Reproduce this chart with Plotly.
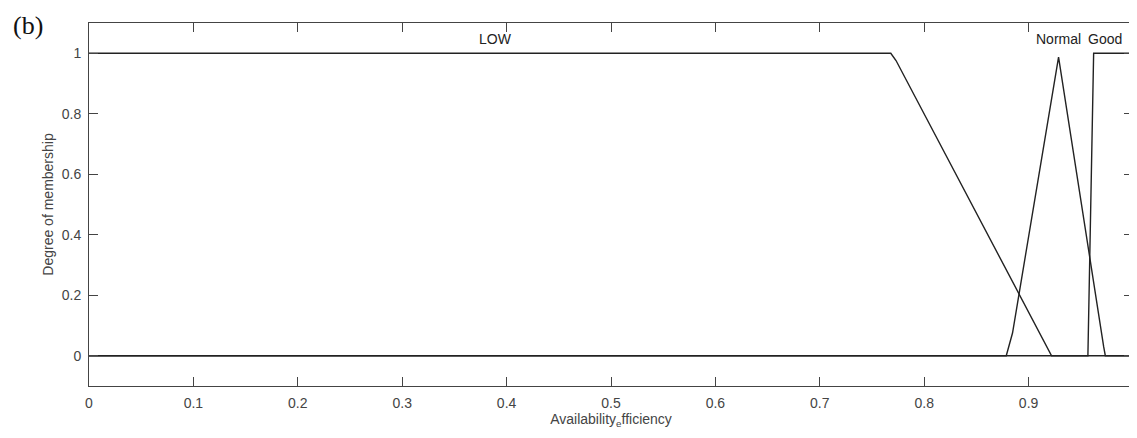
import plotly.graph_objects as go

low_x = [0.0, 0.768, 0.773, 0.920, 0.922, 1.0]
low_y = [1.0, 1.0, 0.976, 0.013, 0.0, 0.0]

normal_x = [0.0, 0.8786, 0.8846, 0.9287, 0.9719, 0.9735, 1.0]
normal_y = [0.0, 0.0, 0.075, 0.987, 0.03, 0.0, 0.0]

good_x = [0.0, 0.9568, 0.9623, 1.0]
good_y = [0.0, 0.0, 1.0, 1.0]

mf_names = ["LOW", "Normal", "Good"]
label_x = [0.389, 0.929, 0.973]
label_y = 1.047

x_ticks = [0, 0.1, 0.2, 0.3, 0.4, 0.5, 0.6, 0.7, 0.8, 0.9, 1]
x_tick_text = ["0", "0.1", "0.2", "0.3", "0.4", "0.5", "0.6", "0.7", "0.8", "0.9", "1"]
y_ticks = [0, 0.2, 0.4, 0.6, 0.8, 1]
y_tick_text = ["0", "0.2", "0.4", "0.6", "0.8", "1"]

# page body has an 8px default margin, so the figure is offset by 8px;
# the figure is made a bit wider than the window so the last tick label has room
OFF = 8
W, H = 1137, 438 - OFF
ml, mt, mb = 89 - OFF, 23 - OFF, 52
plot_right_screen = 1133
mr = W - (plot_right_screen - OFF)
pw, ph = W - ml - mr, H - mt - mb

FONT = "Liberation Sans, Arial, Helvetica"
line_style = dict(color="#222222", width=1.4)

fig = go.Figure()
for xs, ys, nm in [(low_x, low_y, "LOW"), (normal_x, normal_y, "Normal"), (good_x, good_y, "Good")]:
    fig.add_trace(go.Scatter(x=xs, y=ys, mode="lines", line=line_style, name=nm,
                             showlegend=False, hoverinfo="skip"))

for nm, lx in zip(mf_names, label_x):
    fig.add_annotation(x=lx, y=label_y, xref="x", yref="y", text=nm, showarrow=False,
                       font=dict(family=FONT, size=14, color="#222222"),
                       xanchor="center", yanchor="middle")

bx, by = 28 - OFF, 26 - OFF
fig.add_annotation(x=(bx - ml) / pw, y=(H - by - mb) / ph, xref="paper", yref="paper",
                   text="(b)", showarrow=False, xanchor="center", yanchor="middle",
                   font=dict(family="Liberation Serif, Times New Roman", size=26, color="#111111"))

axis_common = dict(
    showline=True, linecolor="#444444", linewidth=1, mirror="ticks",
    ticks="inside", ticklen=9, tickwidth=1, tickcolor="#444444",
    showgrid=False, zeroline=False, automargin=False,
    tickfont=dict(family=FONT, size=14, color="#444444"),
)

fig.update_xaxes(range=[0, 1], tickvals=x_ticks, ticktext=x_tick_text,
                 title=dict(text="Availability<sub>e</sub>fficiency", standoff=4,
                            font=dict(family=FONT, size=14, color="#444444")),
                 ticklabelstandoff=4, ticklabeloverflow="allow", **axis_common)
fig.update_yaxes(range=[-0.1, 1.1], tickvals=y_ticks, ticktext=y_tick_text,
                 title=dict(text="Degree of membership", standoff=4,
                            font=dict(family=FONT, size=14, color="#444444")),
                 ticklabelstandoff=4, **axis_common)

fig.update_layout(width=W, height=H, margin=dict(l=ml, r=mr, t=mt, b=mb),
                  paper_bgcolor="white", plot_bgcolor="white")

fig.write_html("out.html")
